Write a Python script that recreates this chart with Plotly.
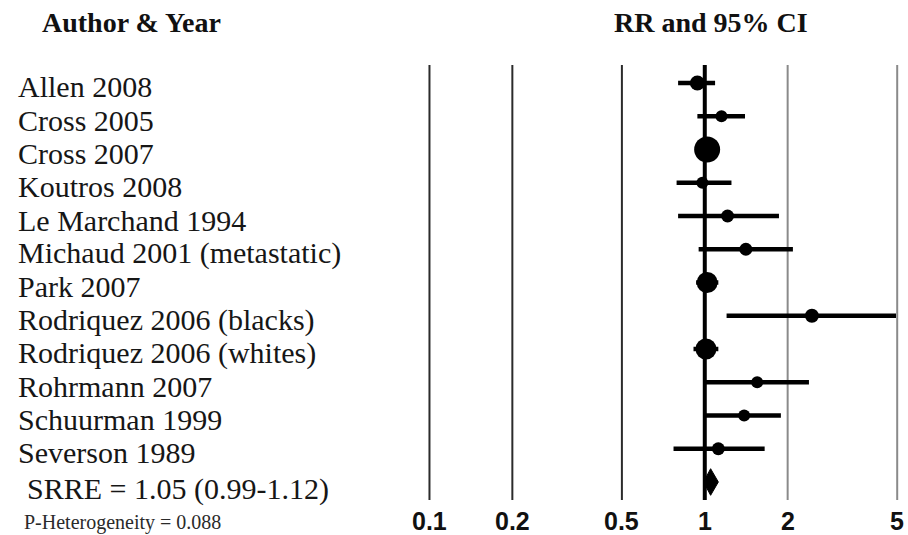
import math
import plotly.graph_objects as go

# ---------------- data ----------------
studies = [
    "Allen 2008", "Cross 2005", "Cross 2007", "Koutros 2008", "Le Marchand 1994",
    "Michaud 2001 (metastatic)", "Park 2007", "Rodriquez 2006 (blacks)",
    "Rodriquez 2006 (whites)", "Rohrmann 2007", "Schuurman 1999", "Severson 1989",
]
rr = [0.94, 1.15, 1.02, 0.98, 1.21, 1.41, 1.02, 2.45, 1.01, 1.55, 1.39, 1.12]
ci_low = [0.80, 0.94, 0.97, 0.79, 0.80, 0.95, 0.93, 1.20, 0.91, 1.01, 1.01, 0.77]
ci_high = [1.09, 1.40, 1.08, 1.25, 1.86, 2.09, 1.12, 4.95, 1.12, 2.39, 1.89, 1.65]
weights = [15, 12, 26, 12, 13, 13, 21, 14, 21, 12, 12, 13]

summary_label = "SRRE = 1.05 (0.99-1.12)"
summary_est, summary_low, summary_high = 1.05, 0.99, 1.12
het_label = "P-Heterogeneity = 0.088"

tick_vals = [0.1, 0.2, 0.5, 1, 2, 5]
tick_text = ["0.1", "0.2", "0.5", "1", "2", "5"]
line_colors = ["#2b2b2b", "#2b2b2b", "#2b2b2b", "#000000", "#8a8a8a", "#8a8a8a"]
line_widths = [2, 2, 2, 4, 2, 2]

header_left = "Author & Year"
header_right = "RR and 95% CI"

# ---------------- figure ----------------
n = len(studies)
rows = list(range(n))
summary_row = n

W, H = 908, 535
top, bottom = 65, 35
plot_h = H - top - bottom

fig = go.Figure()

# CI lines
xs, ys = [], []
for i in rows:
    xs += [ci_low[i], ci_high[i], None]
    ys += [i, i, None]
fig.add_trace(go.Scatter(x=xs, y=ys, mode="lines",
                         line=dict(color="black", width=4.5),
                         hoverinfo="skip", showlegend=False))

# vertical reference lines
for v, c, w in zip(tick_vals, line_colors, line_widths):
    fig.add_shape(type="line", xref="x", yref="paper", x0=v, x1=v, y0=0, y1=1,
                  line=dict(color=c, width=w), layer="below" if v != 1 else "above")

# point estimates
fig.add_trace(go.Scatter(x=rr, y=rows, mode="markers",
                         marker=dict(color="black", size=weights, symbol="circle",
                                     opacity=1, line=dict(width=0)),
                         showlegend=False))

# summary diamond
h = 0.4
fig.add_trace(go.Scatter(
    x=[summary_low, summary_est, summary_high, summary_est, summary_low],
    y=[summary_row, summary_row - h, summary_row, summary_row + h, summary_row],
    mode="lines", fill="toself", fillcolor="black",
    line=dict(color="black", width=1), showlegend=False))

serif = "Liberation Serif, Times New Roman, serif"

# study labels
for i, s in enumerate(studies):
    fig.add_annotation(x=16 / W, xref="paper", xanchor="left", y=i, yref="y",
                       yanchor="middle", yshift=-4, text=s, showarrow=False,
                       font=dict(family=serif, size=30, color="#161616"))

fig.add_annotation(x=25 / W, xref="paper", xanchor="left", y=summary_row, yref="y",
                   yanchor="middle", yshift=-7, text=summary_label, showarrow=False,
                   font=dict(family=serif, size=30, color="#161616"))

fig.add_annotation(x=22 / W, xref="paper", xanchor="left",
                   y=(H - bottom - 522) / plot_h, yref="paper", yanchor="middle",
                   text=het_label, showarrow=False,
                   font=dict(family=serif, size=20, color="#2a2a2a"))

# x tick labels (as annotations on the log axis, for precise vertical placement)
for v, t in zip(tick_vals, tick_text):
    fig.add_annotation(x=math.log10(v), xref="x", xanchor="center",
                       y=(H - bottom - 521) / plot_h, yref="paper", yanchor="middle",
                       text="<b>" + t + "</b>", showarrow=False, borderpad=0,
                       font=dict(family="Liberation Sans, Arial, sans-serif", size=25,
                                 color="#111111"))

# headers
fig.add_annotation(x=131 / W, xref="paper", xanchor="center",
                   y=(H - bottom - 22) / plot_h, yref="paper", yanchor="middle",
                   text="<b>" + header_left + "</b>", showarrow=False,
                   font=dict(family=serif, size=28, color="#111111"))
fig.add_annotation(x=711 / W, xref="paper", xanchor="center",
                   y=(H - bottom - 22) / plot_h, yref="paper", yanchor="middle",
                   text="<b>" + header_right + "</b>", showarrow=False,
                   font=dict(family=serif, size=28, color="#111111"))

fig.update_layout(
    width=W, height=H,
    margin=dict(l=0, r=0, t=top, b=bottom, pad=0),
    plot_bgcolor="white", paper_bgcolor="white",
    xaxis=dict(type="log", range=[-1 - 429 / 275, (908 - 705) / 275],
               showticklabels=False,
               showgrid=False, zeroline=False, showline=False, ticks="",
               fixedrange=True),
    yaxis=dict(range=[n + 0.541, -0.541], showticklabels=False, showgrid=False,
               zeroline=False, showline=False, ticks="", fixedrange=True),
)

fig.write_html("out.html")
